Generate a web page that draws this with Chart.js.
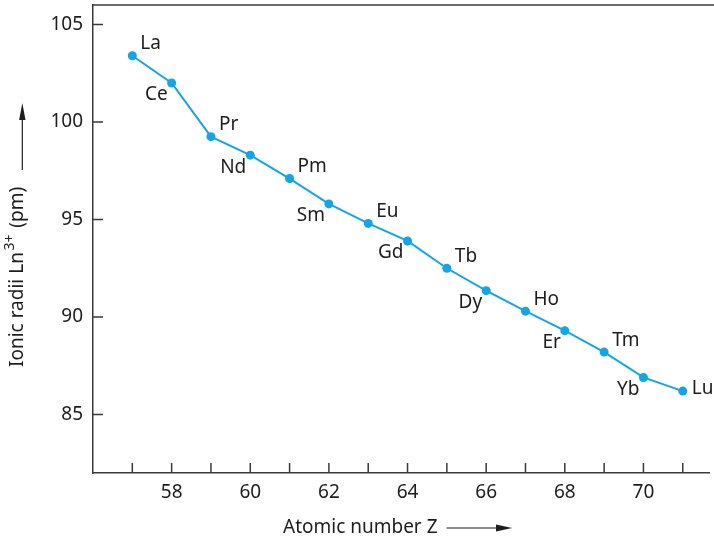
<!DOCTYPE html>
<html>
<head>
<meta charset="utf-8">
<script src="https://cdn.jsdelivr.net/npm/chart.js@4.4.1/dist/chart.umd.min.js"></script>
<style>
  html, body { margin: 0; padding: 0; background: #fff; }
  #wrap { width: 714px; height: 539px; }
</style>
</head>
<body>
<div id="wrap"><canvas id="chartRaios" width="714" height="539"></canvas></div>
<script>
// raios iônicos Ln3+ (pm) x número atômico
const numerosAtomicos = [57, 58, 59, 60, 61, 62, 63, 64, 65, 66, 67, 68, 69, 70, 71];
const elementos = ['La', 'Ce', 'Pr', 'Nd', 'Pm', 'Sm', 'Eu', 'Gd', 'Tb', 'Dy', 'Ho', 'Er', 'Tm', 'Yb', 'Lu'];
const raiosIonicos = [103.4, 102.0, 99.25, 98.3, 97.1, 95.8, 94.8, 93.9, 92.5, 91.35, 90.3, 89.3, 88.2, 86.9, 86.2];
const ticksY = [85, 90, 95, 100, 105];
const ticksX = [57, 58, 59, 60, 61, 62, 63, 64, 65, 66, 67, 68, 69, 70, 71];

const FONTE = '"Noto Sans", sans-serif';
const COR_TEXTO = '#1e1c1d';
const COR_EIXO = '#3a3a3a';
const COR_LINHA = '#14a6e2';

function desenharSeta(ctx, x1, y1, x2, y2, compr, larg) {
    const ang = Math.atan2(y2 - y1, x2 - x1);
    ctx.beginPath();
    ctx.moveTo(x1, y1);
    ctx.lineTo(x2 - Math.cos(ang) * compr * 0.8, y2 - Math.sin(ang) * compr * 0.8);
    ctx.stroke();
    ctx.beginPath();
    ctx.moveTo(x2, y2);
    ctx.lineTo(x2 - Math.cos(ang) * compr - Math.sin(ang) * larg, y2 - Math.sin(ang) * compr + Math.cos(ang) * larg);
    ctx.lineTo(x2 - Math.cos(ang) * compr + Math.sin(ang) * larg, y2 - Math.sin(ang) * compr - Math.cos(ang) * larg);
    ctx.closePath();
    ctx.fill();
}

const pluginMoldura = {
    id: 'moldura',
    afterDraw(chart) {
        const ctx = chart.ctx;
        const area = chart.chartArea;
        const sx = chart.scales.x;
        const sy = chart.scales.y;
        ctx.save();
        ctx.strokeStyle = COR_EIXO;
        ctx.fillStyle = COR_EIXO;
        ctx.lineWidth = 1.5;

        // borda superior
        ctx.beginPath();
        ctx.moveTo(area.left, area.top);
        ctx.lineTo(chart.width, area.top);
        ctx.stroke();

        // ticks para dentro
        ctx.beginPath();
        sy.ticks.forEach(t => {
            const y = sy.getPixelForValue(t.value);
            ctx.moveTo(area.left, y);
            ctx.lineTo(area.left + 10, y);
        });
        sx.ticks.forEach(t => {
            const x = sx.getPixelForValue(t.value);
            ctx.moveTo(x, area.bottom);
            ctx.lineTo(x, area.bottom - 10);
        });
        ctx.stroke();

        // título do eixo X com seta
        ctx.fillStyle = COR_TEXTO;
        ctx.font = '19px ' + FONTE;
        ctx.textAlign = 'left';
        ctx.textBaseline = 'alphabetic';
        const tituloX = 'Atomic number Z';
        ctx.fillText(tituloX, 283, 533);
        const fimX = 283 + ctx.measureText(tituloX).width;
        ctx.strokeStyle = COR_TEXTO;
        ctx.fillStyle = COR_TEXTO;
        ctx.lineWidth = 1.2;
        desenharSeta(ctx, fimX + 9, 528, 512, 528, 16, 3.5);

        // título do eixo Y (rotacionado) com sobrescrito
        ctx.save();
        ctx.translate(23, 367);
        ctx.rotate(-Math.PI / 2);
        ctx.fillStyle = COR_TEXTO;
        let pos = 0;
        ctx.font = '19px ' + FONTE;
        const p1 = 'Ionic radii Ln';
        ctx.fillText(p1, pos, 0);
        pos += ctx.measureText(p1).width + 1.5;
        ctx.font = '14px ' + FONTE;
        ctx.fillText('3+', pos, -9);
        pos += ctx.measureText('3+').width + 2;
        ctx.font = '19px ' + FONTE;
        ctx.fillText(' (pm)', pos, 0);
        ctx.restore();
        ctx.strokeStyle = COR_TEXTO;
        ctx.fillStyle = COR_TEXTO;
        desenharSeta(ctx, 22.3, 170, 22.3, 103, 17, 3.2);

        ctx.restore();
    }
};

const pluginRotulos = {
    id: 'rotulos',
    afterDatasetsDraw(chart) {
        const ctx = chart.ctx;
        const meta = chart.getDatasetMeta(0);
        ctx.save();
        ctx.fillStyle = COR_TEXTO;
        ctx.font = '19px ' + FONTE;
        ctx.textBaseline = 'middle';
        meta.data.forEach((pt, i) => {
            const nome = elementos[i];
            if (i === meta.data.length - 1) {
                ctx.textAlign = 'left';
                ctx.fillText(nome, pt.x + 9, pt.y - 3);
            } else if (i % 2 === 0) {
                ctx.textAlign = 'left';
                ctx.fillText(nome, pt.x + 8, pt.y - 12);
            } else {
                ctx.textAlign = 'right';
                ctx.fillText(nome, pt.x - 4, pt.y + 12);
            }
        });
        ctx.restore();
    }
};

const ctx = document.getElementById('chartRaios').getContext('2d');
const chartRaios = new Chart(ctx, {
    type: 'line',
    data: {
        datasets: [{
            label: 'Raio iônico',
            data: numerosAtomicos.map((z, i) => ({ x: z, y: raiosIonicos[i] })),
            borderColor: COR_LINHA,
            backgroundColor: COR_LINHA,
            borderWidth: 2,
            pointRadius: 4.5,
            pointHoverRadius: 4.5,
            pointBorderWidth: 0,
            tension: 0
        }]
    },
    options: {
        responsive: false,
        animation: false,
        layout: { padding: { top: 5, left: 0, right: 0, bottom: 0 } },
        plugins: {
            legend: { display: false },
            tooltip: { enabled: false }
        },
        scales: {
            x: {
                type: 'linear',
                min: 56,
                max: 71.68,
                afterBuildTicks: s => { s.ticks = ticksX.map(v => ({ value: v })); },
                afterFit: s => { s.height = 66; s.paddingLeft = 0; s.paddingRight = 0; },
                grid: { display: false, drawTicks: false },
                border: { display: true, color: COR_EIXO, width: 1.5 },
                ticks: {
                    autoSkip: false,
                    maxRotation: 0,
                    padding: 8,
                    color: COR_TEXTO,
                    font: { family: FONTE, size: 19 },
                    callback: v => (v % 2 === 0 ? String(v) : '')
                }
            },
            y: {
                min: 82,
                max: 106,
                afterBuildTicks: s => { s.ticks = ticksY.map(v => ({ value: v })); },
                afterFit: s => { s.width = 93; s.paddingTop = 0; s.paddingBottom = 0; },
                grid: { display: false, drawTicks: false },
                border: { display: true, color: COR_EIXO, width: 1.5 },
                ticks: {
                    padding: 10,
                    color: COR_TEXTO,
                    font: { family: FONTE, size: 19 }
                }
            }
        }
    },
    plugins: [pluginMoldura, pluginRotulos]
});
</script>
</body>
</html>
